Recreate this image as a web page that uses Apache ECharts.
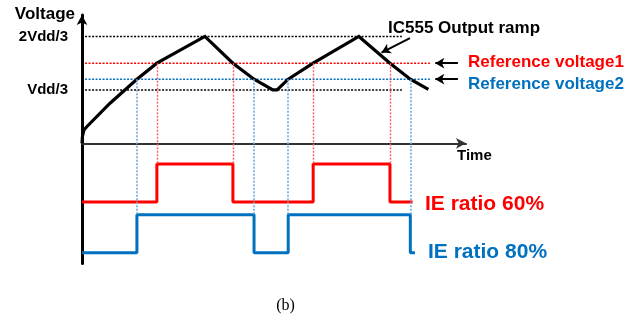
<!DOCTYPE html>
<html><head><meta charset="utf-8">
<script src="https://cdn.jsdelivr.net/npm/echarts@6/dist/echarts.min.js"></script>
<style>html,body{margin:0;padding:0;background:#fff}#c{width:638px;height:323px}</style>
</head><body><div id="c"></div>
<script>
// ---- data (time in arbitrary units 0..100, voltage in Vdd units) ----
const rampTime = [0, 0.13, 0.5, 1.3, 7.3, 14.3, 19.5, 32.0, 39.3, 44.8, 49.7, 50.8, 53.7, 60.2, 72.1, 80.2, 85.5, 90.2];
const rampVolt = [0, 0.046, 0.083, 0.105, 0.25, 0.40, 0.50, 0.667, 0.50, 0.40, 0.333, 0.333, 0.40, 0.50, 0.667, 0.50, 0.40, 0.337];
const thresholdLevels = [1/3, 2/3];
const thresholdLabels = ['Vdd/3', '2Vdd/3'];
const refLevels = [0.5, 0.4];               // Reference voltage1, Reference voltage2
const refNames = ['Reference voltage1', 'Reference voltage2'];
const redEdges = [19.5, 39.3, 60.2, 80.2];  // IE ratio 60% switching times
const blueEdges = [14.3, 44.8, 53.7, 85.5]; // IE ratio 80% switching times
const redLevels = [-0.366, -0.129];         // low, high (display offsets)
const blueLevels = [-0.683, -0.446];
const redEnd = 86.1, blueEnd = 86.7;
const lineStart = 0.8, thrLineEnd = 83.3, refLineEnd = 90.6;
const waveNames = ['IE ratio 60%', 'IE ratio 80%'];

const RED = '#ff0000', BLUE = '#0070c0';
const FONT = 'Liberation Sans, Arial, sans-serif';

function square(edges, lv, end) {
  const lo = lv[0], hi = lv[1];
  const pts = [[0, lo]];
  let s = lo;
  edges.forEach(e => { s = (s === lo) ? hi : lo; pts.push([e, s]); });
  pts.push([end, s]);
  return pts;
}
function hline(y, x0, x1) { return [[x0, y], [x1, y]]; }
function vlines(edges, from, to) {
  return edges.map(e => [{coord: [e, from]}, {coord: [e, to]}]);
}
const dotted = [2, 1.5];

const series = [];
// threshold lines (black dotted)
thresholdLevels.forEach(v => series.push({
  type: 'line', data: hline(v, lineStart, thrLineEnd), symbol: 'none', silent: true,
  lineStyle: {color: '#000', width: 1.5, type: dotted}, z: 1
}));
// reference lines
refLevels.forEach((v, i) => series.push({
  type: 'line', data: hline(v, lineStart, refLineEnd), symbol: 'none', silent: true,
  lineStyle: {color: i === 0 ? RED : BLUE, width: 1.6, type: dotted}, z: 1
}));
// vertical guides
series.push({
  type: 'line', data: [], symbol: 'none', silent: true, z: 1,
  markLine: {silent: true, symbol: 'none', animation: false, label: {show: false},
    lineStyle: {color: '#ff5c5c', width: 1.4, type: dotted},
    data: vlines(redEdges, refLevels[0], redLevels[1])}
});
series.push({
  type: 'line', data: [], symbol: 'none', silent: true, z: 1,
  markLine: {silent: true, symbol: 'none', animation: false, label: {show: false},
    lineStyle: {color: '#6fa8dc', width: 1.6, type: dotted},
    data: vlines(blueEdges, refLevels[1], blueLevels[1])}
});
// ramp
series.push({
  name: 'IC555 Output ramp', type: 'line', symbol: 'none', z: 3,
  data: rampTime.map((t, i) => [t, rampVolt[i]]),
  lineStyle: {color: '#000', width: 3.2, join: 'miter'},
  markLine: {silent: true, animation: false, label: {show: false},
    symbol: ['none', 'arrow'], symbolSize: [8, 9],
    lineStyle: {color: '#000', width: 2, type: 'solid'},
    data: [
      [{coord: [85.4, 0.657]}, {coord: [78.0, 0.566]}],
      [{coord: [97.9, refLevels[0]]}, {coord: [92.0, refLevels[0]]}],
      [{coord: [97.9, refLevels[1]]}, {coord: [92.0, refLevels[1]]}]
    ]}
});
// square waves
series.push({
  name: waveNames[0], type: 'line', step: 'end', symbol: 'none', z: 3,
  data: square(redEdges, redLevels, redEnd),
  lineStyle: {color: RED, width: 3}
});
series.push({
  name: waveNames[1], type: 'line', step: 'end', symbol: 'none', z: 3,
  data: square(blueEdges, blueLevels, blueEnd),
  lineStyle: {color: BLUE, width: 3}
});

function txt(text, x, y, size, color, align, family, weight) {
  return {type: 'text', x: x, y: y, silent: true,
    style: {text: text, fill: color || '#000', font: (weight || 'bold') + ' ' + size + 'px ' + (family || FONT),
      textAlign: align || 'left', textVerticalAlign: 'middle'}};
}

const option = {
  animation: false,
  backgroundColor: '#fff',
  grid: {left: 82, top: 15.1, width: 384, height: 248.4, containLabel: false},
  xAxis: {type: 'value', min: 0, max: 100,
    axisLine: {show: true, onZero: true, symbol: ['none', 'arrow'], symbolSize: [8, 10],
      lineStyle: {color: '#333', width: 2}},
    axisTick: {show: false}, axisLabel: {show: false}, splitLine: {show: false}},
  yAxis: {type: 'value', min: -0.75, max: 0.8,
    axisLine: {show: true, symbol: ['none', 'arrow'], symbolSize: [8, 10],
      lineStyle: {color: '#000', width: 3}},
    axisTick: {show: false}, splitLine: {show: false},
    axisLabel: {show: true, customValues: thresholdLevels, margin: 14,
      formatter: v => thresholdLabels[thresholdLevels.findIndex(t => Math.abs(t - v) < 1e-6)] || '',
      color: '#000', fontWeight: 'bold', fontSize: 15, fontFamily: FONT}},
  series: series,
  graphic: [
    txt('Voltage', 75, 14, 17, '#000', 'right'),
    txt('IC555 Output ramp', 388, 28, 17, '#000'),
    txt(refNames[0], 468, 62, 17, RED),
    txt(refNames[1], 468, 84, 17, BLUE),
    txt('Time', 457, 156, 15, '#000'),
    txt(waveNames[0], 425, 204.5, 21, RED),
    txt(waveNames[1], 428, 252, 21, BLUE),
    txt('(b)', 285.5, 306, 16, '#000', 'center', 'Liberation Serif, Times New Roman, serif', 'normal')
  ]
};
const chart = echarts.init(document.getElementById('c'), null, {renderer: 'canvas'});
chart.setOption(option);
</script></body></html>
